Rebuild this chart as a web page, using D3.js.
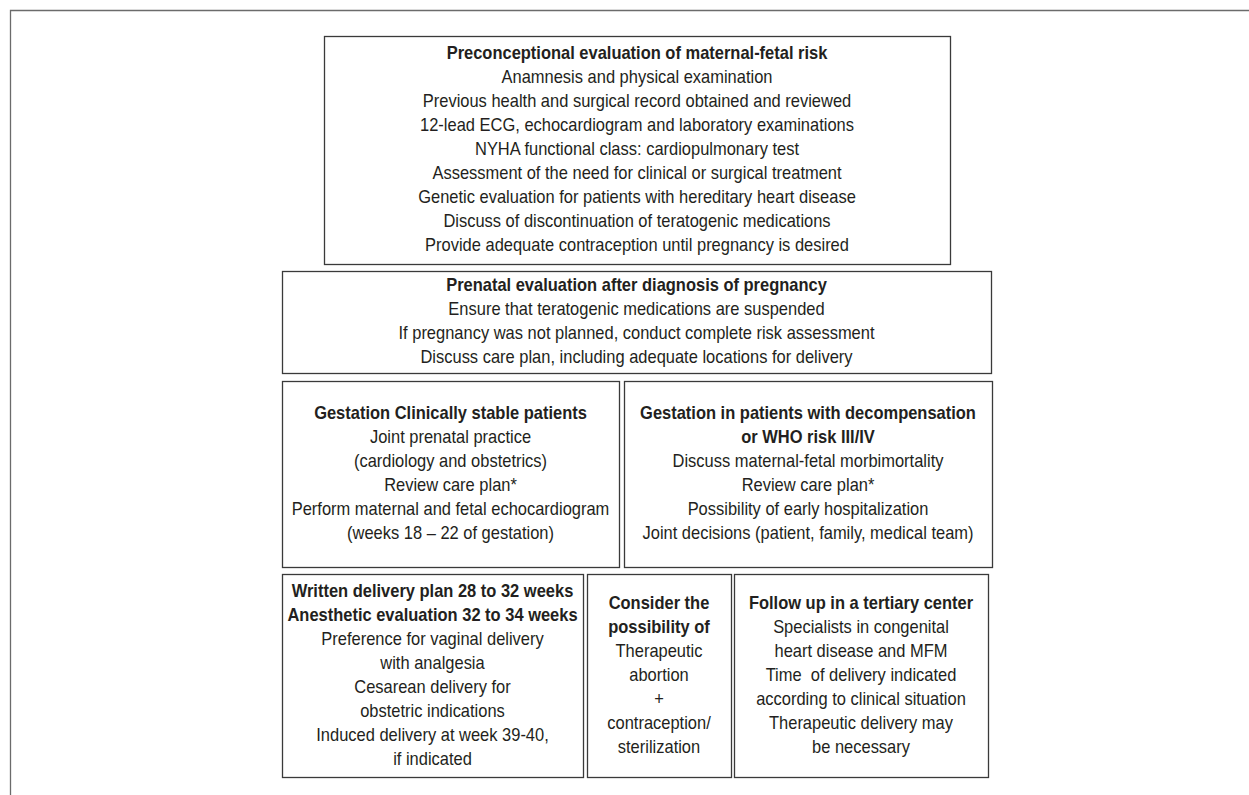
<!DOCTYPE html>
<html>
<head>
<meta charset="utf-8">
<script src="https://cdn.jsdelivr.net/npm/d3@7"></script>
<style>
  body { margin: 0; background: #fff; }
  svg text { font-family: "Liberation Sans Narrow", "Arial Narrow", "Liberation Sans", sans-serif; }
</style>
</head>
<body>
<svg id="chart" width="1249" height="795"></svg>
<script>
// texty boxů (tučné řádky = nadpis)
var preconTitle = ["Preconceptional evaluation of maternal-fetal risk"]
var preconLines = [
  "Anamnesis and physical examination",
  "Previous health and surgical record obtained and reviewed",
  "12-lead ECG, echocardiogram and laboratory examinations",
  "NYHA functional class: cardiopulmonary test",
  "Assessment of the need for clinical or surgical treatment",
  "Genetic evaluation for patients with hereditary heart disease",
  "Discuss of discontinuation of teratogenic medications",
  "Provide adequate contraception until pregnancy is desired"
]
var prenatalTitle = ["Prenatal evaluation after diagnosis of pregnancy"]
var prenatalLines = [
  "Ensure that teratogenic medications are suspended",
  "If pregnancy was not planned, conduct complete risk assessment",
  "Discuss care plan, including adequate locations for delivery"
]
var stableTitle = ["Gestation Clinically stable patients"]
var stableLines = [
  "Joint prenatal practice",
  "(cardiology and obstetrics)",
  "Review care plan*",
  "Perform maternal and fetal echocardiogram",
  "(weeks 18 \u2013 22 of gestation)"
]
var decompTitle = ["Gestation in patients with decompensation", "or WHO risk III/IV"]
var decompLines = [
  "Discuss maternal-fetal morbimortality",
  "Review care plan*",
  "Possibility of early hospitalization",
  "Joint decisions (patient, family, medical team)"
]
var deliveryTitle = ["Written delivery plan 28 to 32 weeks", "Anesthetic evaluation 32 to 34 weeks"]
var deliveryLines = [
  "Preference for vaginal delivery",
  "with analgesia",
  "Cesarean delivery for",
  "obstetric indications",
  "Induced delivery at week 39-40,",
  "if indicated"
]
var considerTitle = ["Consider the", "possibility of"]
var considerLines = ["Therapeutic", "abortion", "+", "contraception/", "sterilization"]
var followTitle = ["Follow up in a tertiary center"]
var followLines = [
  "Specialists in congenital",
  "heart disease and MFM",
  "Time\u00a0 of delivery indicated",
  "according to clinical situation",
  "Therapeutic delivery may",
  "be necessary"
]

// rozložení boxů (x0, x1, y0, y1 v pixelech)
var layout = [
  {title: preconTitle,   lines: preconLines,   x0: 324, x1: 950, y0: 36,  y1: 264},
  {title: prenatalTitle, lines: prenatalLines, x0: 282, x1: 991, y0: 271, y1: 373},
  {title: stableTitle,   lines: stableLines,   x0: 282, x1: 619, y0: 381, y1: 567},
  {title: decompTitle,   lines: decompLines,   x0: 624, x1: 992, y0: 381, y1: 567},
  {title: deliveryTitle, lines: deliveryLines, x0: 282, x1: 583, y0: 574, y1: 777},
  {title: considerTitle, lines: considerLines, x0: 587, x1: 731, y0: 574, y1: 777},
  {title: followTitle,   lines: followLines,   x0: 734, x1: 988, y0: 574, y1: 777}
]

var Svg = d3.select("#chart")
var lineH = 24
var squeeze = 0.915 // písmo je v originále užší

// rámeček kolem obrázku (jen horní a levá hrana)
Svg.append("path")
  .attr("d", "M10.5,795 L10.5,10.5 L1249,10.5")
  .attr("fill", "none")
  .attr("stroke", "#6b6b6b")
  .attr("stroke-width", 1.3)

var g = Svg.selectAll("g.box").data(layout).enter().append("g").attr("class", "box")

g.append("rect")
  .attr("x", function(d){ return d.x0 + 0.5 })
  .attr("y", function(d){ return d.y0 + 0.5 })
  .attr("width", function(d){ return d.x1 - d.x0 })
  .attr("height", function(d){ return d.y1 - d.y0 })
  .attr("fill", "#fff")
  .attr("stroke", "#3a3a3a")
  .attr("stroke-width", 1.3)

g.each(function(d){
  var all = d.title.map(function(t){ return {t: t, b: true} })
    .concat(d.lines.map(function(t){ return {t: t, b: false} }))
  var cx = (d.x0 + d.x1) / 2
  var cy = (d.y0 + d.y1) / 2
  var y0 = cy - (all.length - 1) * lineH / 2 + 5
  d3.select(this).selectAll("text").data(all).enter().append("text")
    .attr("transform", function(e, i){ return "translate(" + cx + "," + (y0 + i * lineH) + ") scale(" + squeeze + ",1)" })
    .attr("text-anchor", "middle")
    .attr("font-size", 18)
    .attr("font-weight", function(e){ return e.b ? "bold" : "normal" })
    .attr("fill", "#231f20")
    .text(function(e){ return e.t })
})
</script>
</body>
</html>
